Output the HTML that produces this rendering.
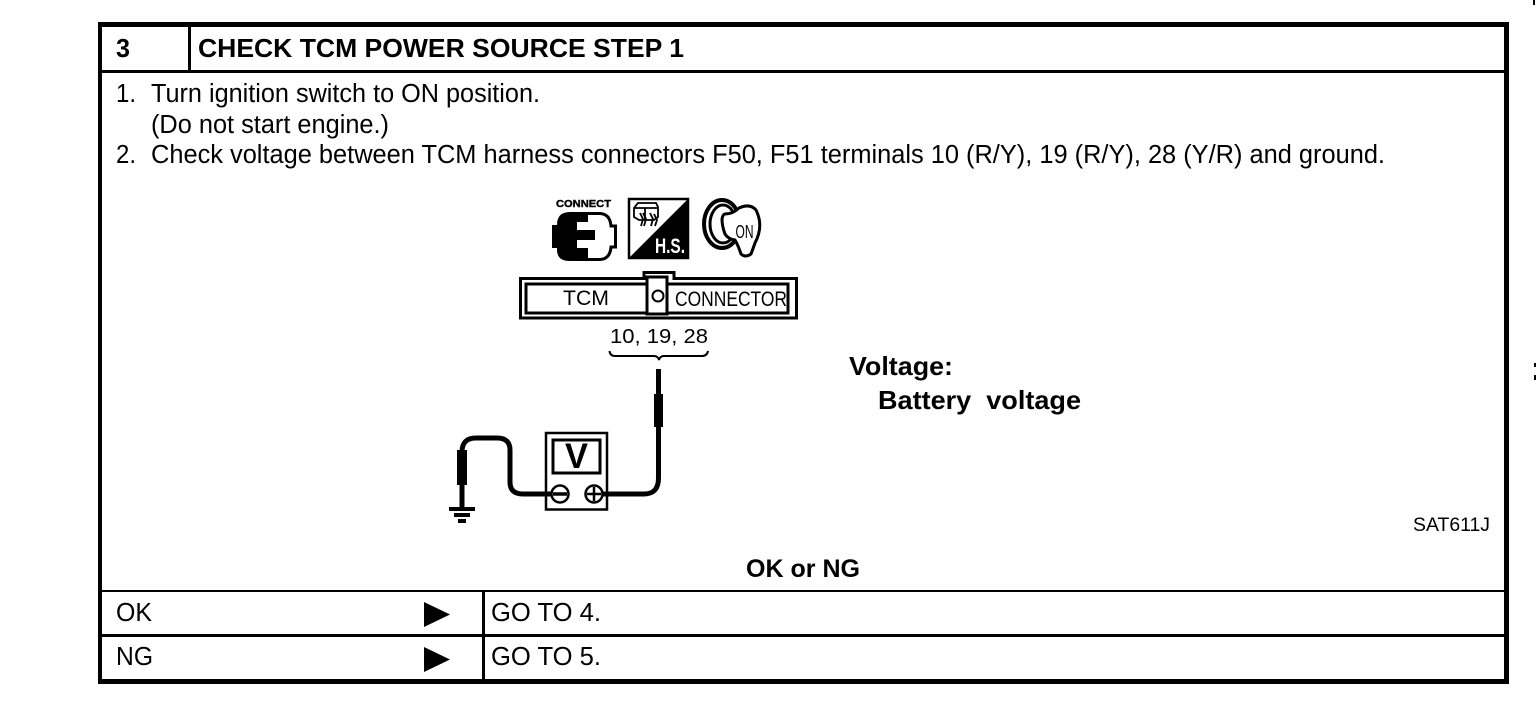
<!DOCTYPE html>
<html><head><meta charset="utf-8"><style>
html,body{margin:0;padding:0;background:#fff;width:1536px;height:706px;overflow:hidden}
svg{display:block}
text{font-family:"Liberation Sans",sans-serif;fill:#000;white-space:pre}
.b{font-weight:bold}
</style></head><body>
<svg width="1536" height="706" viewBox="0 0 1536 706" xmlns="http://www.w3.org/2000/svg">
<rect width="1536" height="706" fill="#fff"/>
<!-- table -->
<g fill="#000" shape-rendering="crispEdges">
<rect x="98" y="22" width="1411" height="5"/>
<rect x="98" y="679" width="1411" height="5"/>
<rect x="98" y="22" width="4" height="662"/>
<rect x="1504" y="22" width="5" height="662"/>
<rect x="98" y="70" width="1411" height="3"/>
<rect x="188" y="22" width="3" height="50"/>
<rect x="98" y="590" width="1411" height="2"/>
<rect x="98" y="634" width="1411" height="3"/>
<rect x="482" y="590" width="3" height="90"/>
<rect x="1533" y="0" width="2" height="5"/>
<rect x="1534" y="363" width="2" height="4"/>
<rect x="1534" y="375" width="2" height="5"/>
</g>
<text class="b" x="116" y="57" font-size="26" textLength="14" lengthAdjust="spacingAndGlyphs">3</text>
<text class="b" x="198" y="57" font-size="26" textLength="486" lengthAdjust="spacingAndGlyphs">CHECK TCM POWER SOURCE STEP 1</text>
<text x="116" y="102" font-size="25.500" textLength="20" lengthAdjust="spacingAndGlyphs">1.</text>
<text x="151" y="102" font-size="25.500" textLength="389" lengthAdjust="spacingAndGlyphs">Turn ignition switch to ON position.</text>
<text x="151" y="133" font-size="25.500" textLength="238" lengthAdjust="spacingAndGlyphs">(Do not start engine.)</text>
<text x="116" y="163" font-size="25.500" textLength="20" lengthAdjust="spacingAndGlyphs">2.</text>
<text x="151" y="163" font-size="25.500" textLength="1234" lengthAdjust="spacingAndGlyphs">Check voltage between TCM harness connectors F50, F51 terminals 10 (R/Y), 19 (R/Y), 28 (Y/R) and ground.</text>
<!-- connect icon -->
<text class="b" x="556" y="207" font-size="10.500" textLength="55" lengthAdjust="spacingAndGlyphs" stroke="#000" stroke-width=".4">CONNECT</text>
<path d="M588 212H570Q557 212 557 225H552V248H557V250Q557 261 570 261H588V248H577V240H595V230H577V222H588Z" fill="#000"/>
<path d="M588 213.500H600Q610 214 611 226H615.500V247H611Q610 259 600 259.500H588" fill="none" stroke="#000" stroke-width="3"/>
<!-- H.S. icon -->
<rect x="629" y="199" width="59" height="59" fill="#fff" stroke="#000" stroke-width="2.500"/>
<path d="M688 199V258H629Z" fill="#000"/>
<text class="b" x="655" y="253" font-size="21" textLength="30" lengthAdjust="spacingAndGlyphs" style="fill:#fff">H.S.</text>
<g fill="none" stroke="#000" stroke-width="1.800">
<path d="M634 208L638 203H656L658 207V217L654 220H639L634 217Z"/>
<path d="M634 208H658M645 208V220"/>
<path d="M640 213L643 219L641 226M643 213L646 219L644 226M650 213L653 219L651 226M654 214L657 220L655 226"/>
</g>
<!-- key icon -->
<ellipse cx="722" cy="224" rx="18" ry="24" fill="#fff" stroke="#000" stroke-width="4"/>
<ellipse cx="723" cy="224" rx="13" ry="19" fill="none" stroke="#000" stroke-width="3"/>
<path d="M725 214Q733 214 739 208Q750 203 756 210Q764 226 755 243L751 254Q745 258 741 254Q738 245 735 240Q728 239 725 234Q722 226 722 219Q723 214 725 214Z" fill="#fff" stroke="#000" stroke-width="3"/>
<text x="735.500" y="238" font-size="18" textLength="18" lengthAdjust="spacingAndGlyphs">ON</text>
<!-- connector -->
<path d="M520.500 278.500H644V272.500H674V278.500H796.500V318H520.500Z" fill="#fff" stroke="#000" stroke-width="3"/>
<rect x="526" y="284" width="262" height="29" fill="#fff" stroke="#000" stroke-width="3" shape-rendering="crispEdges"/>
<rect x="647" y="277" width="20" height="37" fill="#fff" stroke="#000" stroke-width="3" shape-rendering="crispEdges"/>
<circle cx="658" cy="296" r="5.500" fill="none" stroke="#000" stroke-width="2"/>
<text x="563" y="305" font-size="21" textLength="46" lengthAdjust="spacingAndGlyphs">TCM</text>
<text x="675" y="306" font-size="21" textLength="112" lengthAdjust="spacingAndGlyphs">CONNECTOR</text>
<text x="610" y="343" font-size="20" textLength="98" lengthAdjust="spacingAndGlyphs">10, 19, 28</text>
<path d="M609.500 351Q610 356 615 356H654Q658 356 659 360Q660 356 664 356H702Q707 356 708 351" fill="none" stroke="#000" stroke-width="2"/>
<!-- voltage text -->
<text class="b" x="849" y="375" font-size="26" textLength="104" lengthAdjust="spacingAndGlyphs">Voltage:</text>
<text class="b" x="878" y="409" font-size="26" textLength="203" lengthAdjust="spacingAndGlyphs">Battery  voltage</text>
<text x="1413" y="531" font-size="19" textLength="77" lengthAdjust="spacingAndGlyphs">SAT611J</text>
<text class="b" x="746" y="577" font-size="25" textLength="114" lengthAdjust="spacingAndGlyphs">OK or NG</text>
<!-- wires -->
<g fill="none" stroke="#000" stroke-width="5">
<path d="M658.500 369V478Q658.500 494 644 494H603"/>
<path d="M551 494H523Q510 494 510 482V450Q510 438 497 438H476Q462 438 462 452V508"/>
</g>
<rect x="654" y="394" width="9" height="33" fill="#000"/>
<rect x="457" y="450" width="10" height="35" fill="#000"/>
<g fill="#000" shape-rendering="crispEdges">
<rect x="449" y="507" width="26" height="4"/>
<rect x="454" y="513" width="16" height="4"/>
<rect x="458" y="519" width="8" height="4"/>
</g>
<!-- meter -->
<rect x="546" y="433" width="61" height="76.500" fill="none" stroke="#000" stroke-width="2.500"/>
<rect x="553" y="440" width="47" height="33" fill="#fff" stroke="#000" stroke-width="3"/>
<text class="b" x="565" y="468" font-size="35" textLength="23" lengthAdjust="spacingAndGlyphs">V</text>
<circle cx="560" cy="494" r="8.500" fill="#fff" stroke="#000" stroke-width="2.500"/>
<path d="M553 494H567" stroke="#000" stroke-width="3.500"/>
<circle cx="594" cy="494" r="8.500" fill="#fff" stroke="#000" stroke-width="2.500"/>
<path d="M587 494H601M594 487V501" stroke="#000" stroke-width="2.500"/>
<!-- rows -->
<text x="116" y="621" font-size="25.500" textLength="36" lengthAdjust="spacingAndGlyphs">OK</text>
<path d="M424 602L450 614.500L424 627Z" fill="#000"/>
<text x="491" y="621" font-size="25.500" textLength="110" lengthAdjust="spacingAndGlyphs">GO TO 4.</text>
<text x="116" y="665" font-size="25.500" textLength="37" lengthAdjust="spacingAndGlyphs">NG</text>
<path d="M424 647L450 659.500L424 672Z" fill="#000"/>
<text x="491" y="665" font-size="25.500" textLength="110" lengthAdjust="spacingAndGlyphs">GO TO 5.</text>
</svg>
</body></html>
